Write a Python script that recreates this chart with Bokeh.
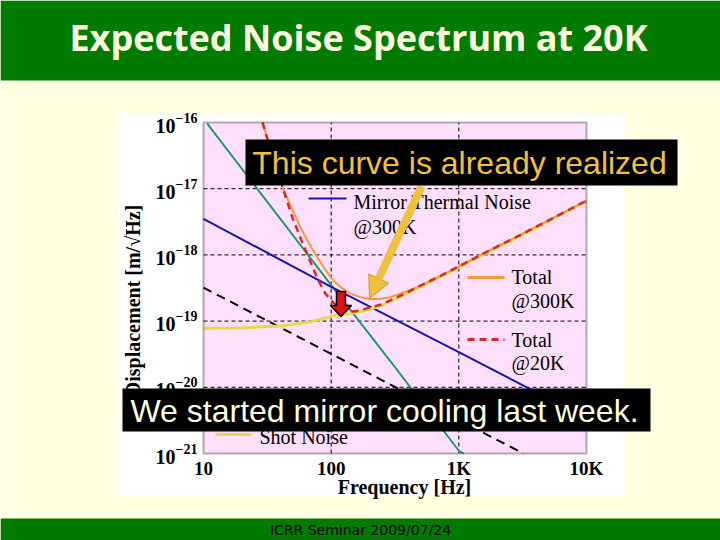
import math
from bokeh.plotting import figure
from bokeh.models import (Range1d, LinearScale, FixedTicker, BoxAnnotation, Label,
                          Arrow, NormalHead)
from bokeh.embed import file_html
from bokeh.resources import INLINE

# ---------------- data ----------------
x_ticks = [10, 100, 1000, 10000]
x_tick_labels = ["10", "100", "1K", "10K"]
y_ticks = [1e-21, 1e-20, 1e-19, 1e-18, 1e-17, 1e-16]
x_grid = [100, 1000]
y_grid = [1e-20, 1e-19, 1e-18, 1e-17]

# steep curve (green)
green_freq = [10.7, 30, 100, 300, 1000, 1090]
green_disp = [9.6e-17, 7.2e-18, 3.5e-19, 2.3e-20, 1.1e-21, 1.0e-21]

# Mirror thermal noise @300K (blue)
blue_freq = [10, 100, 1000, 10000]
blue_disp = [3.5e-18, 3.3e-19, 3.4e-20, 3.4e-21]

# black dashed curve
black_freq = [10, 100, 1000, 3200]
black_disp = [3.2e-19, 3.2e-20, 3.2e-21, 1.0e-21]

# Total @300K (orange)
total300_freq = [29, 35, 41.6, 50, 57.5, 67, 78, 90, 104, 120, 142, 170, 203, 240,
                 291, 370, 474, 860, 1560, 2880, 10000]
total300_disp = [1.0e-16, 2.95e-17, 1.05e-17, 4.7e-18, 2.6e-18, 1.5e-18, 9.1e-19,
                 6.0e-19, 4.1e-19, 3.2e-19, 2.6e-19, 2.3e-19, 2.15e-19, 2.15e-19,
                 2.3e-19, 2.7e-19, 3.25e-19, 5.75e-19, 1.05e-18, 1.9e-18, 6.6e-18]

# Total @20K (red dashed)
total20_freq = [29, 35, 41.6, 50, 57.5, 67, 78, 90, 104, 120, 142, 170, 203, 240,
                291, 370, 474, 860, 1560, 2880, 10000]
total20_disp = [1.0e-16, 2.95e-17, 1.05e-17, 3.55e-18, 1.8e-18, 8.9e-19, 4.4e-19,
                2.6e-19, 1.9e-19, 1.45e-19, 1.38e-19, 1.45e-19, 1.62e-19, 1.75e-19,
                2.05e-19, 2.55e-19, 3.25e-19, 5.75e-19, 1.05e-18, 1.9e-18, 6.6e-18]

# Shot noise (yellow)
shot_freq = [10, 20, 42, 70, 104, 142, 200, 257, 370, 474, 860, 1560, 2880, 10000]
shot_disp = [7.8e-20, 7.9e-20, 8.5e-20, 9.8e-20, 1.2e-19, 1.3e-19, 1.5e-19, 1.78e-19,
             2.5e-19, 3.15e-19, 5.6e-19, 1.02e-18, 1.85e-18, 6.45e-18]

# ---------------- colours ----------------
GREEN_BAND = "#007B00"
CREAM = "#FFFFE1"
PINK = "#FFE0FC"
C_GREEN = "#1F9A6A"
C_BLUE = "#1414B4"
C_ORANGE = "#F29A3C"
C_RED = "#D42A2A"
C_YELLOW = "#E6D84A"
GOLD = "#F0C040"

# ---------------- layout geometry (page pixels) ----------------
W, H = 720, 540
PL, PR, PT, PB = 203, 586, 122, 453          # plot-area edges on the page
XMIN, XMAX = 10, 1e4
YMIN, YMAX = 1e-21, 1e-16
dx = (PR - PL) / (math.log10(XMAX) - math.log10(XMIN))
dy = (PB - PT) / (math.log10(YMAX) - math.log10(YMIN))
x_start = 10 ** (math.log10(XMIN) - PL / dx)
x_end = 10 ** (math.log10(XMAX) + (W - PR) / dx)
y_start = 10 ** (math.log10(YMIN) - (H - PB) / dy)
y_end = 10 ** (math.log10(YMAX) + PT / dy)

p = figure(width=W, height=H, x_axis_type="log", y_axis_type="log",
           x_range=Range1d(x_start, x_end), y_range=Range1d(y_start, y_end),
           output_backend="svg", toolbar_location=None,
           min_border_left=0, min_border_right=0, min_border_top=0,
           min_border_bottom=0)
p.background_fill_color = CREAM
p.border_fill_color = CREAM
p.outline_line_color = None
p.xgrid.visible = False
p.ygrid.visible = False

# page-pixel helper ranges (decorations only)
p.extra_x_ranges = {"px": Range1d(0, W)}
p.extra_y_ranges = {"py": Range1d(H, 0)}
p.extra_x_scales = {"px": LinearScale()}
p.extra_y_scales = {"py": LinearScale()}

def pbox(l, r, t, b, color, level="underlay"):
    p.add_layout(BoxAnnotation(left=l, right=r, top=t, bottom=b,
                               x_range_name="px", y_range_name="py",
                               fill_color=color, fill_alpha=1,
                               line_color=None, level=level))

# slide background
pbox(0, W, 0, 80, GREEN_BAND)
pbox(0, W, 518, H, GREEN_BAND)
pbox(118, 625, 113, 495, "white")
# plot area
p.add_layout(BoxAnnotation(left=XMIN, right=XMAX, bottom=YMIN, top=YMAX,
                           fill_color=PINK, fill_alpha=1, line_color=None,
                           level="underlay"))

# axes, placed on the plot edges
xt = FixedTicker(ticks=x_ticks)
yt = FixedTicker(ticks=y_ticks)
p.xaxis.ticker = xt
p.yaxis.ticker = yt
p.xaxis.fixed_location = YMIN
p.yaxis.fixed_location = XMIN
p.xaxis.bounds = (XMIN, XMAX)
p.yaxis.bounds = (YMIN, YMAX)
p.xaxis.major_label_overrides = dict(zip(x_ticks, x_tick_labels))
for ax in (p.xaxis, p.yaxis):
    ax.axis_line_color = None
    ax.major_tick_line_color = None
    ax.minor_tick_line_color = None
    ax.major_tick_in = 0
    ax.major_tick_out = 0
    ax.minor_tick_in = 0
    ax.minor_tick_out = 0
    ax.major_label_text_font = "Liberation Serif"
    ax.major_label_text_font_style = "bold"
    ax.major_label_text_color = "black"
p.xaxis.major_label_text_font_size = "19px"
p.yaxis.major_label_text_font_size = "20px"
p.xaxis.major_label_standoff = 4
p.yaxis.major_label_standoff = 6

# dashed grid inside the plot area
p.segment(x0=x_grid, y0=[YMIN] * len(x_grid), x1=x_grid, y1=[YMAX] * len(x_grid),
          line_color="black", line_width=1, line_dash="4 3")
p.segment(x0=[XMIN] * len(y_grid), y0=y_grid, x1=[XMAX] * len(y_grid), y1=y_grid,
          line_color="black", line_width=1, line_dash="4 3")

# ---------------- curves ----------------
p.line(black_freq, black_disp, line_color="black", line_width=2, line_dash="9 6")
p.line(green_freq, green_disp, line_color=C_GREEN, line_width=2)
p.line(blue_freq, blue_disp, line_color=C_BLUE, line_width=2)
p.line(shot_freq, shot_disp, line_color=C_YELLOW, line_width=3)
p.line(total300_freq, total300_disp, line_color=C_ORANGE, line_width=2)
p.line(total20_freq, total20_disp, line_color=C_RED, line_width=2.5, line_dash="7 5")

# plot frame
p.add_layout(BoxAnnotation(left=XMIN, right=XMAX, bottom=YMIN, top=YMAX,
                           fill_alpha=0, line_color="black", line_width=2,
                           level="annotation"))

def text(t, x, y, size, color="black", font="Liberation Serif", style="normal",
         align="left", baseline="middle", angle=0.0, level="annotation"):
    p.add_layout(Label(x=x, y=y, x_range_name="px", y_range_name="py", text=t,
                       text_font=font, text_font_size=f"{size}px",
                       text_font_style=style, text_color=color,
                       text_align=align, text_baseline=baseline, angle=angle,
                       level=level))

# axis titles
text("Frequency [Hz]", 404, 486, 20, style="bold", align="center")
text("Displacement [m/\u221aHz]", 132, 300, 20, style="bold", align="center",
     angle=math.pi / 2)

# in-plot legend keys
p.line([308, 346], [198, 198], x_range_name="px", y_range_name="py",
       line_color=C_BLUE, line_width=2)
p.line([467, 504], [277, 277], x_range_name="px", y_range_name="py",
       line_color=C_ORANGE, line_width=3)
p.line([467, 504], [339, 339], x_range_name="px", y_range_name="py",
       line_color=C_RED, line_width=3, line_dash="7 5")
p.line([215, 251], [434, 434], x_range_name="px", y_range_name="py",
       line_color=C_YELLOW, line_width=3)
text("Mirror Thermal Noise", 353, 201, 20)
text("@300K", 353, 226, 20)
text("Total", 511, 276, 20)
text("@300K", 511, 300, 20)
text("Total", 511, 339, 20)
text("@20K", 511, 362, 20)
text("Shot Noise", 259, 436, 20)

# red marker arrow
p.patch([336, 345, 345, 351, 340.5, 330, 336], [291, 291, 305, 305, 316, 305, 305],
        x_range_name="px", y_range_name="py", fill_color="#E01010",
        line_color="black", line_width=1.5)

# gold arrow
p.add_layout(Arrow(end=NormalHead(size=22, fill_color=GOLD, line_color="#C89A20",
                                  line_width=1),
                   x_start=421, y_start=186, x_end=369, y_end=298,
                   x_range_name="px", y_range_name="py",
                   line_color=GOLD, line_width=8, level="overlay"))

# black call-out boxes
pbox(245, 677, 139, 185, "black", level="overlay")
pbox(122, 650, 388, 431, "black", level="overlay")
text("This curve is already realized", 459, 162, 32, color=GOLD,
     font="Liberation Sans", align="center", level="overlay")
text("We started mirror cooling last week.", 384, 410, 32, color="#FFFFE0",
     font="Liberation Sans", align="center", level="overlay")

# slide title and footer
text("Expected Noise Spectrum at 20K", 358, 37, 36, color="#FFFFE0",
     font="Open Sans", style="bold", align="center", baseline="alphabetic",
     level="overlay")
text("ICRR Seminar 2009/07/24", 360, 529, 14, color="black", font="DejaVu Sans",
     align="center", level="overlay")

open("out.html", "w").write(file_html(p, INLINE))
